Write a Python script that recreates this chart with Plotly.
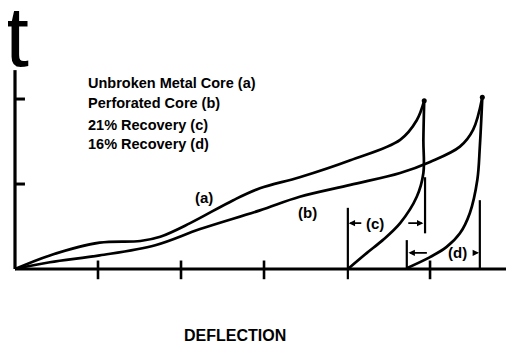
import plotly.graph_objects as go

# Belastungskurven (Einheiten = Teilstriche)
a_x = [0, 0.42, 1.02, 1.51, 1.75, 2.11, 2.63, 2.95, 3.43, 4.04, 4.64, 4.84, 4.93]
a_y = [0, 0.16, 0.31, 0.33, 0.38, 0.54, 0.81, 0.95, 1.08, 1.28, 1.52, 1.75, 1.98]

b_x = [0, 0.42, 1.02, 1.69, 2.23, 2.95, 3.43, 4.04, 4.64, 5.00, 5.36, 5.52, 5.63]
b_y = [0, 0.08, 0.16, 0.28, 0.47, 0.69, 0.85, 0.99, 1.13, 1.26, 1.44, 1.64, 2.02]

# Entlastungskurven
c_x = [4.93, 4.92, 4.92, 4.84, 4.64, 4.43, 4.24, 4.01]
c_y = [1.98, 1.52, 1.13, 0.85, 0.54, 0.34, 0.19, 0]

d_x = [5.63, 5.60, 5.57, 5.48, 5.36, 5.20, 5.00, 4.72]
d_y = [2.02, 1.44, 1.05, 0.66, 0.42, 0.26, 0.14, 0.01]

x_ticks = [1, 2, 3, 5]
y_ticks = [1, 2]

# Begrenzungen der Rueckfederung (c) und (d)
c_bounds = [(4.01, -0.12, 0.72), (4.94, 0.42, 1.08)]
d_bounds = [(4.72, 0, 0.34), (5.60, 0, 0.81)]

legend_lines = ['Unbroken Metal Core (a)', 'Perforated Core (b)',
                '21% Recovery (c)', '16% Recovery (d)']

FONT = 'Liberation Sans'
fig = go.Figure()

def line(x, y, w=2.7, shape='spline'):
    fig.add_trace(go.Scatter(x=x, y=y, mode='lines', line=dict(color='black', width=w, shape=shape),
                             hoverinfo='skip', showlegend=False))

# Achsen
line([0, 6.2], [0, 0], w=3.2, shape='linear')
line([0, 0], [0, 2.34], w=3.2, shape='linear')
for t in x_ticks:
    line([t, t], [0.1, -0.12], w=2.6, shape='linear')
for t in y_ticks:
    line([0, 0.12], [t, t], w=3, shape='linear')

line(a_x, a_y)
line(b_x, b_y)
line(c_x, c_y)
line(d_x, d_y)

fig.add_trace(go.Scatter(x=[a_x[-1], b_x[-1]], y=[a_y[-1], b_y[-1]], mode='markers',
                         marker=dict(color='black', size=5), hoverinfo='skip', showlegend=False))

for bx, y0, y1 in c_bounds + d_bounds:
    line([bx, bx], [y0, y1], w=2.2, shape='linear')

def arrow(x0, x1, y):
    fig.add_annotation(x=x1, y=y, ax=x0, ay=y, xref='x', yref='y', axref='x', ayref='y',
                       text='', showarrow=True, arrowhead=2, arrowsize=0.8, arrowwidth=1.6,
                       arrowcolor='black')

arrow(4.19, 4.02, 0.54)
arrow(4.72, 4.92, 0.54)
arrow(4.98, 4.74, 0.19)
arrow(5.50, 5.59, 0.19)

labels = [('(a)', 2.28, 0.84), ('(b)', 3.52, 0.67), ('(c)', 4.34, 0.54), ('(d)', 5.33, 0.19)]
for txt, x, y in labels:
    fig.add_annotation(x=x, y=y, text=txt, showarrow=False,
                       font=dict(family=FONT, size=15, color='black', weight='bold'))

for txt, y in zip(legend_lines, [2.19, 1.95, 1.69, 1.47]):
    fig.add_annotation(x=0.85, y=y, text=txt, showarrow=False, xanchor='left',
                       font=dict(family=FONT, size=14.5, color='black', weight='bold'))

fig.add_annotation(x=0.024, y=2.74, text='t', showarrow=False,
                   font=dict(family=FONT, size=86, color='black'))
fig.add_annotation(x=2.65, y=-0.785, text='DEFLECTION', showarrow=False,
                   font=dict(family=FONT, size=16, color='black', weight='bold'))

# die Seite hat 8px Rand, daher Bereich verschoben
fig.update_layout(
    width=514, height=345,
    margin=dict(l=0, r=0, t=0, b=0),
    paper_bgcolor='white', plot_bgcolor='white',
    xaxis=dict(range=[-0.0843, 6.108], visible=False, fixedrange=True),
    yaxis=dict(range=[-0.988, 3.071], visible=False, fixedrange=True),
)

fig.write_html("out.html")
